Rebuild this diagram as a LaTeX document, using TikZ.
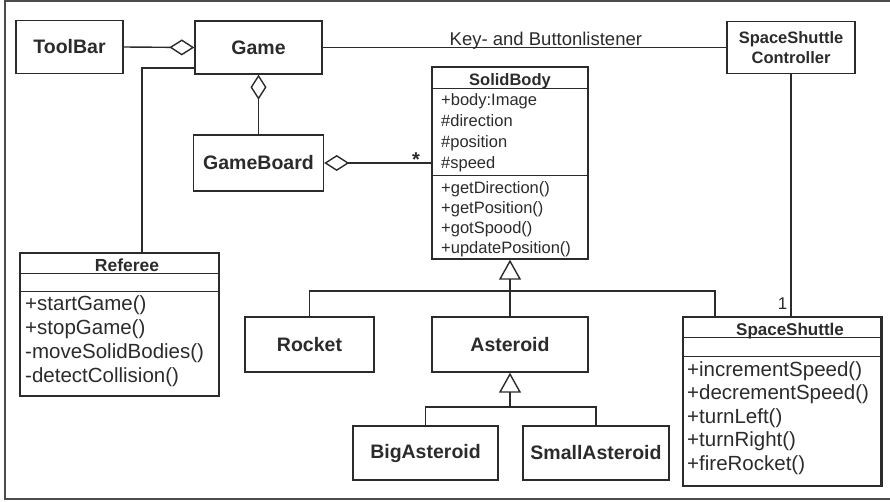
\documentclass[tikz,border=0pt]{standalone}
\usepackage{fontspec}
\setmainfont{Liberation Sans}
\usetikzlibrary{arrows.meta,calc}
\definecolor{ink}{HTML}{2B2B2B}
\begin{document}
\begin{tikzpicture}[x=1pt,y=-1pt,
  line/.style={draw=ink, line width=1.4pt},
  cls/.style={line, rectangle, inner sep=0pt, align=center,
    font=\fontsize{19.5}{22}\selectfont\bfseries, text=ink},
  hdr/.style={inner sep=0pt, anchor=base, text=ink,
    font=\fontsize{16.5}{20}\selectfont\bfseries},
  mem/.style={inner sep=0pt, anchor=base west, text=ink,
    font=\fontsize{16.5}{20}\selectfont},
  bigmem/.style={inner sep=0pt, anchor=base west, text=ink,
    font=\fontsize{20.5}{24}\selectfont},
  aggr/.style={line, {Diamond[open, length=25pt, width=16pt]}-},
  inh/.style={line, -{Triangle[open, length=20pt, width=22pt]}}
]
\useasboundingbox (0,0) rectangle (890,501);

% outer frame
\draw[draw=black!70, line width=1.5pt] (890,1) -- (5,1) -- (5,499) -- (890,499);

% simple classes
\node[cls, minimum width=107pt, minimum height=53pt] (toolbar) at (69.5,47) {ToolBar};
\node[cls, minimum width=127pt, minimum height=53pt] (game) at (258.5,47.5) {Game};
\node[cls, minimum width=128pt, minimum height=52pt,
      font=\fontsize{16.5}{20}\selectfont\bfseries] (controller) at (791,47.5) {SpaceShuttle\\Controller};
\node[cls, minimum width=130pt, minimum height=56pt] (gameboard) at (258.5,163) {GameBoard};
\node[cls, minimum width=129pt, minimum height=55pt] (rocket) at (309.5,344.5) {Rocket};
\node[cls, minimum width=156pt, minimum height=55pt] (asteroid) at (510,344.5) {Asteroid};
\node[cls, minimum width=145pt, minimum height=54pt] (bigasteroid) at (425.5,453) {BigAsteroid};
\node[cls, minimum width=146pt, minimum height=54pt] (smallasteroid) at (596,453) {SmallAsteroid};

% SolidBody class
\node[line, rectangle, minimum width=156pt, minimum height=192pt, inner sep=0pt] (solidbody) at (510,163) {};
\draw[line] ($(solidbody.north west)+(0,22)$) -- ($(solidbody.north east)+(0,22)$);
\draw[line] ($(solidbody.north west)+(0,109)$) -- ($(solidbody.north east)+(0,109)$);
\node[hdr] (sbname) at (510,85) {SolidBody};
\node[mem] (sba1) at (441,105) {+body:Image};
\node[mem] (sba2) at (441,126) {\#direction};
\node[mem] (sba3) at (441,147) {\#position};
\node[mem] (sba4) at (441,168) {\#speed};
\node[mem] (sbm1) at (441,193) {+getDirection()};
\node[mem] (sbm2) at (441,213) {+getPosition()};
\node[mem] (sbm3) at (441,233) {+gotSpood()};
\node[mem] (sbm4) at (441,253) {+updatePosition()};

% Referee class
\node[line, rectangle, minimum width=199pt, minimum height=143pt, inner sep=0pt] (referee) at (119.5,324.5) {};
\draw[line] ($(referee.north west)+(0,21)$) -- ($(referee.north east)+(0,21)$);
\draw[line] ($(referee.north west)+(0,39)$) -- ($(referee.north east)+(0,39)$);
\node[hdr, font=\fontsize{17.5}{20}\selectfont\bfseries] (refname) at (127,271) {Referee};
\node[bigmem] (rfm1) at (25,310) {+startGame()};
\node[bigmem] (rfm2) at (25,334) {+stopGame()};
\node[bigmem] (rfm3) at (25,358) {-moveSolidBodies()};
\node[bigmem] (rfm4) at (25,382) {-detectCollision()};

% SpaceShuttle class
\node[line, rectangle, minimum width=199pt, minimum height=169pt, inner sep=0pt] (spaceshuttle) at (782.5,401.5) {};
\draw[line, line width=3.5pt] ([xshift=-1pt]spaceshuttle.north east) -- ([xshift=-1pt]spaceshuttle.south east);
\draw[line] ($(spaceshuttle.north west)+(0,21)$) -- ($(spaceshuttle.north east)+(0,21)$);
\draw[line] ($(spaceshuttle.north west)+(0,40)$) -- ($(spaceshuttle.north east)+(0,40)$);
\node[hdr, font=\fontsize{17}{20}\selectfont\bfseries] (ssname) at (790,335) {SpaceShuttle};
\node[bigmem] (ssm1) at (687,376) {+incrementSpeed()};
\node[bigmem] (ssm2) at (687,399.5) {+decrementSpeed()};
\node[bigmem] (ssm3) at (687,423) {+turnLeft()};
\node[bigmem] (ssm4) at (687,446.5) {+turnRight()};
\node[bigmem] (ssm5) at (687,470) {+fireRocket()};

% aggregations
\draw[aggr] (game.west) -- (toolbar.east);
\draw[aggr] (game.south) -- (gameboard.north);
\draw[aggr] (gameboard.east) -- (gameboard.east -| solidbody.west);
\node[inner sep=0pt, anchor=base, text=ink, font=\fontsize{20}{20}\selectfont\bfseries] (many) at (416,166) {*};

% associations
\draw[line] (game.east) -- (controller.west)
  node[pos=0.553, anchor=base, yshift=2pt, inner sep=0pt, text=ink,
       font=\fontsize{18.5}{22}\selectfont] (keylbl) {Key- and Buttonlistener};
\draw[line] ([yshift=-20.5pt]game.west) -| ([xshift=22.5pt]referee.north);
\draw[line] (controller.south) -- (controller.south |- spaceshuttle.north);
\node[inner sep=0pt, anchor=base, text=ink, font=\fontsize{17}{20}\selectfont] (one) at (782.5,309) {1};

% generalisations
\coordinate (bar1) at (510,291);
\coordinate (bar2) at (510,407);
\draw[inh] (asteroid.north) -- (solidbody.south);
\draw[line] (rocket.north) |- (bar1) -| ([xshift=-67.5pt]spaceshuttle.north);
\draw[inh] (bar2) -- (asteroid.south);
\draw[line] (bigasteroid.north) |- (bar2) -| (smallasteroid.north);
\end{tikzpicture}
\end{document}
